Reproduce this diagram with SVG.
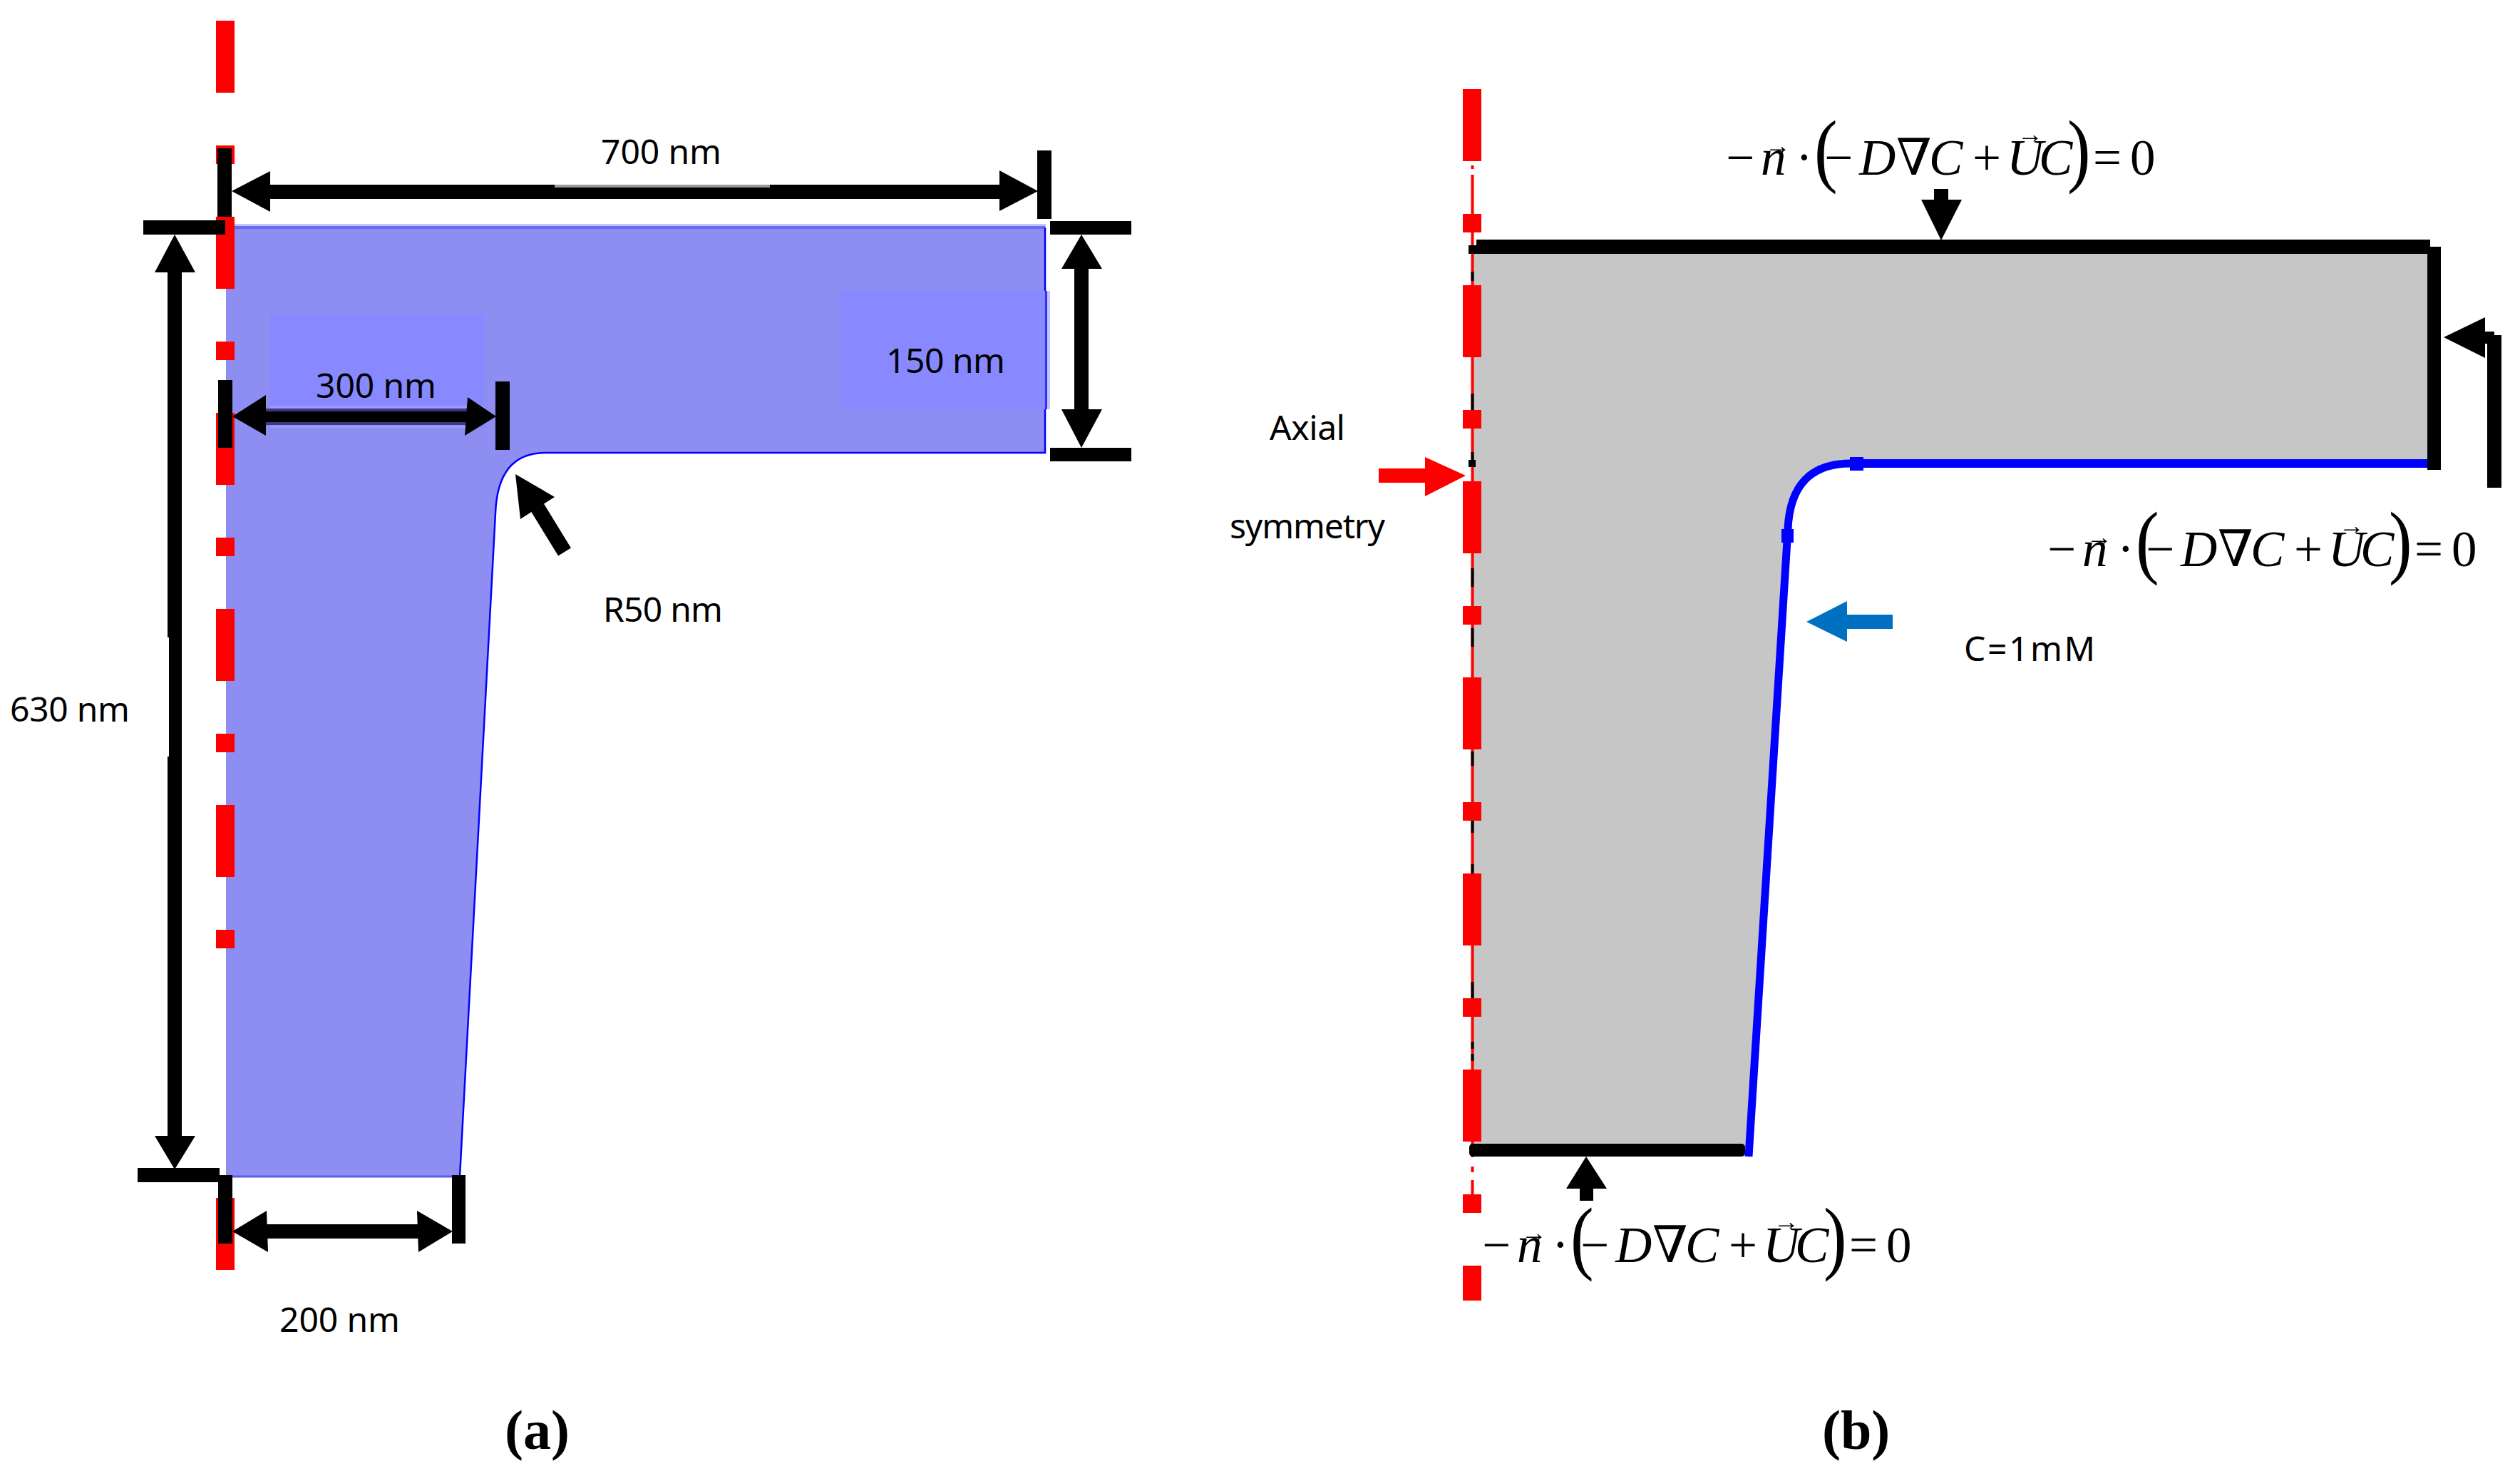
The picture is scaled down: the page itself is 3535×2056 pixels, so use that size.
<svg xmlns="http://www.w3.org/2000/svg" width="3535" height="2056" viewBox="0 0 3535 2056">
<style>
.lb{font-family:"Noto Sans","Open Sans",sans-serif;font-size:48px;fill:#000}
.cap{font-family:"Liberation Serif",serif;font-size:78px;font-weight:bold;fill:#000}
.m{font-family:"Liberation Serif","DejaVu Serif",serif;font-size:71px;fill:#000}
.i{font-style:italic}
.v{font-size:36px}
.p{font-family:"Liberation Serif",serif;font-size:115px;fill:#000}
.r{fill:#f00}
.k{fill:#000}
</style>
<defs>
<g id="dashA" class="r">
<rect x="303" y="29" width="26" height="101"/><rect x="303" y="204" width="26" height="26"/>
</g>
<g id="dashB" class="r">
<rect x="2052" y="125" width="26" height="101"/><rect x="2052" y="300" width="26" height="26"/>
</g>
</defs>
<rect width="3535" height="2056" fill="#fff"/>

<g id="panel-a">
<g id="shape-a">
<rect x="317" y="314" width="1150" height="4" fill="#c4c4fa"/>
<path d="M317 319H1466V635H765Q698 635 695 720L645 1650H317Z" fill="#8e8ef2"/>
<path d="M317 319H1466" fill="none" stroke="#6a6af0" stroke-width="4"/>
<path d="M1466 319V635H765Q698 635 695 720L645 1650" fill="none" stroke="#0000ff" stroke-width="2.5"/>
<path d="M317 1650H645" fill="none" stroke="#5c5cf0" stroke-width="3"/>
<rect id="label-bg-300" x="379" y="440" width="300" height="160" fill="#8888ff"/>
<rect x="379" y="569" width="300" height="3" fill="#9c9cff"/>
<rect x="379" y="597" width="278" height="3" fill="#9c9cff"/>
<rect id="label-bg-150" x="1178" y="408" width="290" height="166" fill="#8888ff"/>
<rect x="1466" y="408" width="3" height="166" fill="#3030ff"/>
<rect x="1469" y="408" width="4" height="166" fill="#c4c4ff"/>
</g>
<g id="axis-a" class="r">
<use href="#dashA"/><use href="#dashA" y="275"/><use href="#dashA" y="550"/><use href="#dashA" y="825"/><use href="#dashA" y="1100"/>
<rect x="303" y="1680" width="26" height="101"/>
</g>
<g id="dim-700">
<rect class="k" x="305" y="208" width="20" height="96"/>
<rect class="k" x="1455" y="211" width="20" height="96"/>
<rect class="k" x="370" y="259" width="408" height="20"/>
<rect x="778" y="259" width="302" height="4" fill="#999"/>
<rect class="k" x="778" y="263" width="302" height="16"/>
<rect class="k" x="1080" y="259" width="325" height="20"/>
<polygon class="k" points="325,268 379,240 379,297"/>
<polygon class="k" points="1456,268 1402,239 1402,296"/>
</g>
<g id="dim-630">
<rect class="k" x="201" y="309" width="115" height="20"/>
<rect class="k" x="193" y="1638" width="115" height="20"/>
<rect class="k" x="235" y="375" width="20" height="519"/>
<rect class="k" x="237" y="894" width="18" height="167"/>
<rect class="k" x="235" y="1061" width="20" height="535"/>
<polygon class="k" points="245,329 217,382 274,382"/>
<polygon class="k" points="245,1640 217,1593 274,1593"/>
</g>
<g id="dim-300">
<rect class="k" x="306" y="533" width="20" height="95"/>
<rect class="k" x="695" y="535" width="20" height="96"/>
<rect x="373" y="573" width="285" height="23" fill="#3a3a80"/>
<rect class="k" x="370" y="577" width="290" height="15"/>
<polygon class="k" points="326,584 373,554 373,611"/>
<polygon class="k" points="696,584 656,557 652,611"/>
</g>
<g id="dim-150">
<rect class="k" x="1473" y="310" width="114" height="19"/>
<rect class="k" x="1473" y="628" width="114" height="19"/>
<rect class="k" x="1507" y="370" width="20" height="210"/>
<polygon class="k" points="1517,329 1489,377 1546,377"/>
<polygon class="k" points="1517,628 1489,574 1546,574"/>
</g>
<g id="dim-200">
<rect class="k" x="306" y="1648" width="20" height="96"/>
<rect class="k" x="634" y="1648" width="19" height="96"/>
<rect class="k" x="370" y="1717" width="220" height="20"/>
<polygon class="k" points="326,1727 374,1698 376,1756"/>
<polygon class="k" points="635,1727 585,1698 587,1756"/>
</g>
<g id="r50-arrow">
<line x1="754" y1="712" x2="792" y2="774" stroke="#000" stroke-width="21"/>
<polygon class="k" points="723,665 778,697 730,728"/>
</g>
<g id="labels-a">
<text class="lb" x="843" y="230" textLength="169">700 nm</text>
<text class="lb" x="443" y="558" textLength="169">300 nm</text>
<text class="lb" x="1243" y="523" textLength="167">150 nm</text>
<text class="lb" x="14" y="1012" textLength="168">630 nm</text>
<text class="lb" x="846" y="872" textLength="168">R50 nm</text>
<text class="lb" x="392" y="1868" textLength="169">200 nm</text>
<text class="cap" x="708" y="2032">(a)</text>
</g>
</g>

<g id="panel-b">
<g id="shape-b">
<path d="M2067 346H3405V650H2596Q2512 650 2508 742L2452 1610H2067Z" fill="#c6c6c6"/>
</g>
<g id="axis-thin">
<rect class="r" x="2063.500" y="232" width="4" height="5"/>
<rect class="r" x="2063.500" y="245" width="4" height="1378"/>
<rect class="r" x="2063.500" y="1636" width="4" height="8"/>
<rect class="r" x="2063.500" y="1655" width="4" height="20"/>
<g class="k">
<rect x="2063.500" y="381" width="4" height="13"/><rect x="2063.500" y="552" width="4" height="23"/><rect x="2063.500" y="634" width="4" height="11"/>
<rect x="2060" y="645" width="10" height="10"/>
<rect x="2063.500" y="797" width="4" height="26"/><rect x="2063.500" y="881" width="4" height="26"/>
<rect x="2063.500" y="1054" width="4" height="20"/><rect x="2063.500" y="1151" width="4" height="17"/><rect x="2063.500" y="1212" width="4" height="13"/>
<rect x="2063.500" y="1377" width="4" height="23"/><rect x="2063.500" y="1461" width="4" height="10"/><rect x="2063.500" y="1478" width="4" height="10"/>
</g>
</g>
<g id="axis-b" class="r">
<use href="#dashB"/><use href="#dashB" y="275"/><use href="#dashB" y="550"/><use href="#dashB" y="825"/><use href="#dashB" y="1100"/><use href="#dashB" y="1375"/>
<rect x="2052" y="1775" width="26" height="49"/>
</g>
<g id="boundary">
<path d="M2600 650H3405" fill="none" stroke="#0000ff" stroke-width="12"/>
<path d="M2596 650Q2512 650 2508 742L2453 1622" fill="none" stroke="#0000ff" stroke-width="11"/>
<rect x="2595" y="641" width="19" height="19" fill="#0000ff"/>
<rect x="2499" y="742" width="17" height="19" fill="#0000ff"/>
<rect class="k" x="2071" y="336" width="1338" height="20"/>
<rect class="k" x="2060" y="344" width="11" height="12"/>
<rect class="k" x="3405" y="346" width="19" height="313"/>
<rect class="k" x="2061" y="1604" width="387" height="18" rx="5"/>
</g>
<g id="arrows-b">
<g id="arrow-top" class="k">
<rect x="2713" y="265" width="20" height="20"/>
<polygon points="2723,337 2695,280 2752,280"/>
</g>
<g id="arrow-bottom" class="k">
<rect x="2216" y="1660" width="19" height="24"/>
<polygon points="2225,1622 2197,1667 2254,1667"/>
</g>
<g id="arrow-right" class="k">
<polygon points="3428,473 3486,445 3486,502"/>
<rect x="3484" y="465" width="15" height="17"/>
<rect x="3489" y="470" width="20" height="214"/>
</g>
<g id="arrow-axis" class="r">
<rect x="1934" y="657" width="70" height="20"/>
<polygon points="2056,667 1999,641 1999,696"/>
</g>
<g id="arrow-inlet" fill="#0070c0">
<rect x="2585" y="862" width="70" height="20"/>
<polygon points="2534,872 2591,843 2591,900"/>
</g>
</g>
<g id="eq-top">
<text class="m" y="245"><tspan x="2421">−</tspan><tspan class="i" x="2470">n</tspan><tspan x="2519">·</tspan><tspan x="2559">−</tspan><tspan class="i" x="2608">D</tspan><tspan x="2660">∇</tspan><tspan class="i" x="2706">C</tspan><tspan x="2767">+</tspan><tspan class="i" x="2815">U</tspan><tspan class="i" x="2860">C</tspan><tspan x="2936">=</tspan><tspan x="2988">0</tspan></text>
<text class="m v" x="2476" y="216">→</text><text class="m v" x="2830" y="200">→</text>
<text class="p" transform="translate(2545,248) scale(.85,1)">(</text><text class="p" transform="translate(2900,248) scale(.85,1)">)</text>
</g>
<g id="eq-right" transform="translate(451,549)">
<text class="m" y="245"><tspan x="2421">−</tspan><tspan class="i" x="2470">n</tspan><tspan x="2519">·</tspan><tspan x="2559">−</tspan><tspan class="i" x="2608">D</tspan><tspan x="2660">∇</tspan><tspan class="i" x="2706">C</tspan><tspan x="2767">+</tspan><tspan class="i" x="2815">U</tspan><tspan class="i" x="2860">C</tspan><tspan x="2936">=</tspan><tspan x="2988">0</tspan></text>
<text class="m v" x="2476" y="216">→</text><text class="m v" x="2830" y="200">→</text>
<text class="p" transform="translate(2545,248) scale(.85,1)">(</text><text class="p" transform="translate(2900,248) scale(.85,1)">)</text>
</g>
<g id="eq-bottom" transform="translate(-342,1525)">
<text class="m" y="245"><tspan x="2421">−</tspan><tspan class="i" x="2470">n</tspan><tspan x="2519">·</tspan><tspan x="2559">−</tspan><tspan class="i" x="2608">D</tspan><tspan x="2660">∇</tspan><tspan class="i" x="2706">C</tspan><tspan x="2767">+</tspan><tspan class="i" x="2815">U</tspan><tspan class="i" x="2860">C</tspan><tspan x="2936">=</tspan><tspan x="2988">0</tspan></text>
<text class="m v" x="2476" y="216">→</text><text class="m v" x="2830" y="200">→</text>
<text class="p" transform="translate(2545,248) scale(.85,1)">(</text><text class="p" transform="translate(2900,248) scale(.85,1)">)</text>
</g>
<g id="labels-b">
<text class="lb" x="1781" y="617" textLength="106">Axial</text>
<text class="lb" x="1725" y="755" textLength="218">symmetry</text>
<text class="lb" x="2755" y="927" textLength="184">C=1mM</text>
<text class="cap" x="2556" y="2032">(b)</text>
</g>
</g>
</svg>
